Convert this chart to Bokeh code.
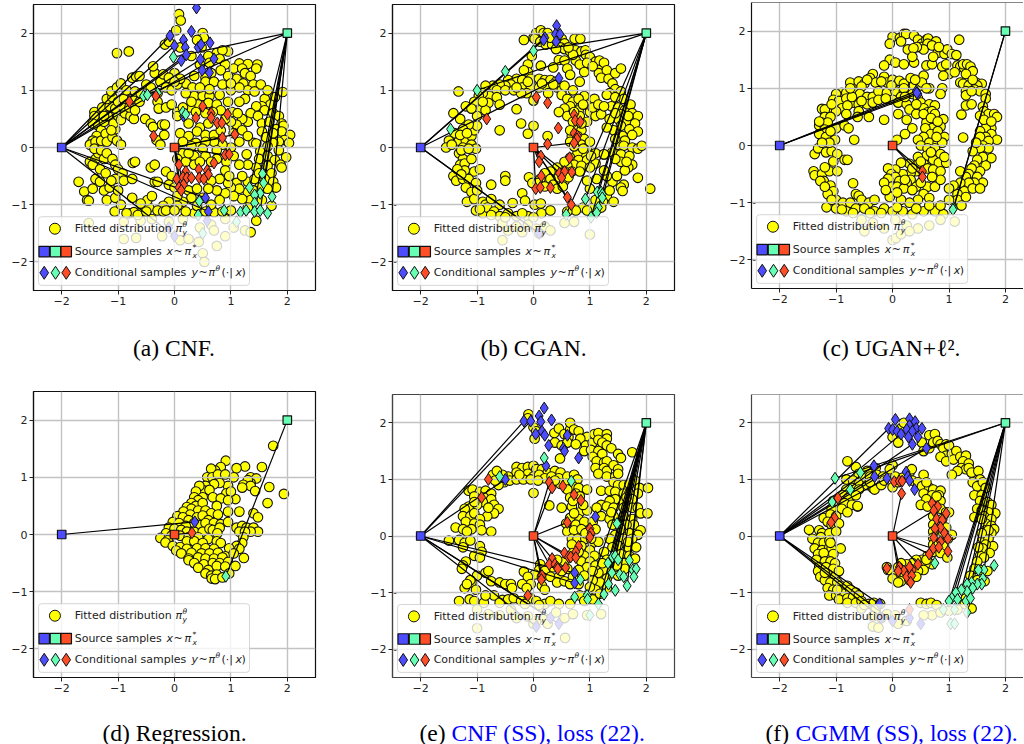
from bokeh.plotting import figure
from bokeh.layouts import row, column
from bokeh.models import BoxAnnotation, Label, FixedTicker, Range1d, Span
from bokeh.core.properties import value
from bokeh.embed import file_html
from bokeh.resources import INLINE

sources = [(-2, 0), (2, 2), (0, 0)]
tick_values = [-2, -1, 0, 1, 2]
tick_labels = {-2: "\u22122", -1: "\u22121", 0: "0", 1: "1", 2: "2"}
blue, green, red = "#4d4dff", "#66ffb3", "#ff4d26"

yellow_a = [(0.08,2.33),(0.11,2.22),(0.03,2.05),(-1.02,1.65),(-0.81,1.68),(0.5,2.0),(0.52,1.92),(-0.17,1.8),(-0.1,1.85),(0.1,1.75),(0.4,1.88),(0.48,1.75),(0.75,1.65),(0.95,1.68),(0.85,1.7),(0.6,1.6),(0.3,1.6),(0.45,1.45),(0.62,1.48),(0.8,1.55),(0.9,1.45),(0.82,1.35),(0.65,1.3),(0.55,1.22),(0.35,1.25),
(1.15,1.47),(1.3,1.46),(1.47,1.45),(1.45,1.38),(1.05,1.38),(1.2,1.38),(1.25,1.3),(1.35,1.25),(1.1,1.2),(1.22,1.12),(1.4,1.1),(1.53,1.1),(1.3,1.0),(1.42,0.98),(1.6,0.85),(1.78,0.88),(1.92,0.97),(1.7,0.75),(1.55,0.72),(1.25,0.85),(1.15,0.8),(1.45,0.72),(1.6,0.65),(1.75,0.6),(1.85,0.55),(1.35,0.6),(1.48,0.55),(1.3,0.45),(1.2,0.5),(1.55,0.42),(1.68,0.45),(1.9,0.42),(1.93,0.38),(1.05,0.35),(1.1,0.4),(1.8,0.32),(1.9,0.28),(2.05,0.22),(1.55,0.28),(1.95,0.13),(2.03,0.08),(1.85,0.1),(1.4,0.08),(1.45,0.07),(1.75,0.08),(1.65,0.02),(1.85,-0.05),(1.98,-0.17),(1.52,-0.07),(1.5,-0.2),(1.65,-0.15),(1.78,-0.22),(1.88,-0.3),(1.9,-0.35),(1.65,-0.32),(1.72,-0.45),(1.45,-0.35),(1.3,-0.3),(1.3,-0.6),(1.42,-0.55),(1.6,-0.55),(1.75,-0.6),(1.8,-0.7),(1.65,-0.72),(1.5,-0.7),(1.3,-0.78),(1.35,-0.92),(1.55,-0.92),(1.72,-1.02),(1.1,-0.62),(1.15,-0.72),(1.0,-0.7),(1.2,-0.9),(1.05,-0.85),(0.9,-0.8),(0.95,-0.62),(0.8,-0.92),(0.75,-0.75),(1.45,-1.28),
(0.2,1.12),(0.32,1.05),(0.55,1.15),(0.7,1.15),(0.85,1.1),(1.0,1.0),(0.35,0.9),(0.5,0.9),(0.62,0.9),(0.8,0.92),(0.95,0.8),(0.42,0.75),(0.6,0.78),(0.75,0.75),(0.28,0.7),(0.05,0.62),(0.15,0.7),(0.38,0.62),(0.82,0.65),(0.05,0.55),(0.25,0.42),(0.45,0.35),(0.6,0.42),(0.1,0.25),(0.25,0.2),(0.4,0.28),(0.55,0.22),(0.7,0.22),(0.82,0.3),(1.05,0.25),(1.15,0.1),(1.0,0.0),(0.85,0.05),(0.7,0.1),(0.55,0.1),(0.38,0.08),(0.15,0.1),(0.3,0.02),(0.5,-0.02),(0.75,-0.05),(1.05,-0.15),(1.15,-0.3),(0.92,-0.25),(0.75,-0.2),(0.55,-0.15),(0.35,-0.15),(0.15,-0.1),(0.05,-0.2),(-0.15,-0.42),(-0.05,-0.5),(0.2,-0.25),(0.35,-0.3),(0.9,-0.4),(0.8,-0.55),(0.65,-0.58),(0.97,-0.5),(-0.35,-0.6),(-0.3,-0.6),(-0.1,-0.65),(0.0,-0.7),(0.25,-0.75),(0.4,-0.72),(0.6,-0.72),(0.5,-0.88),(0.3,-0.88),(0.15,-0.95),(-0.1,-0.95),(0.05,-1.02),(-0.2,-1.02),
(-1.42,0.62),(-1.42,0.55),(-1.45,0.42),(-1.35,0.38),(-1.3,0.3),(-1.38,0.2),(-1.45,0.12),(-1.5,0.05),(-1.4,0.1),(-1.3,0.12),(-1.22,0.24),(-1.2,0.1),(-1.1,0.18),(-1.05,0.32),(-1.02,0.12),(-0.95,0.05),(-1.25,0.45),(-1.18,0.55),(-1.08,0.42),(-1,0.55),(-0.95,0.48),(-0.88,0.6),(-0.78,0.55),(-0.72,0.5),(-1.28,0.7),(-1.15,0.72),(-1.05,0.68),(-0.92,0.72),(-0.8,0.7),(-0.7,0.65),(-1.2,0.85),(-1.1,0.88),(-1,0.8),(-0.9,0.85),(-0.75,0.85),(-0.62,0.8),(-1.12,0.98),(-1.02,1.05),(-0.95,1.12),(-0.85,1.0),(-0.7,0.98),(-0.6,0.95),(-0.75,1.22),(-0.68,1.24),(-0.62,1.25),(-0.5,1.1),(-0.42,1.05),(-0.3,0.95),(-0.25,1.15),(-0.15,1.05),(-0.05,1.0),(0.05,1.1),(-0.35,1.3),(-0.2,1.28),(0,1.3),(-0.38,1.42),(-0.1,1.22),(0.1,1.2),(-0.3,0.8),(-0.28,0.68),(-0.15,0.7),(-0.05,0.75),(-0.52,0.5),(-0.42,0.42),(-0.38,0.36),(-0.22,0.4),(-0.17,0.4),(-0.32,0.13),(-0.25,0.05),(-0.18,0.22),
(-1.5,-0.25),(-1.4,-0.2),(-1.35,-0.1),(-1.42,-0.02),(-1.3,-0.05),(-1.25,-0.2),(-1.2,-0.1),(-1.1,-0.2),(-1.05,-0.3),(-1.7,-0.6),(-1.6,-0.77),(-1.55,-0.92),(-1.52,-0.93),(-1.45,-0.72),(-1.4,-0.55),(-1.32,-0.6),(-1.45,-0.3),(-1.25,-0.75),(-1.2,-0.92),(-1.15,-0.7),(-1.05,-0.55),(-1.0,-0.38),(-0.92,-0.45),(-0.9,-0.58),(-0.75,-0.55),(-0.74,-0.27),(-0.7,-0.25),(-0.42,-0.35),(-0.35,-0.3),(-1.05,-0.88),(-1.06,-1.12),(-0.95,-1.0),(-0.75,-0.88),(-0.8,-1.15),(-0.72,-1.13),(-0.6,-1.15),(-0.45,-1.05),(-0.48,-0.92),(-0.4,-0.85),(-0.3,-1.1),(-0.2,-1.12),(-0.6,-1.28),(-0.4,-1.25),(-0.9,-1.3),(-1.52,-1.32),(-0.1,-1.3),(0.15,-1.25),(0.35,-1.15),(0.7,-1.13),(0.9,-1.25),(0.65,-1.35),(0.45,-1.4),(1.05,-1.4),(1.25,-1.45),(1.35,-1.48),(-0.9,-1.6),(-0.68,-1.58),(-0.22,-1.55),(0.1,-1.62),(0.25,-1.6),(0.43,-1.65),(0.5,-1.85),(0.53,-2.0),(0.75,-1.72),(0.7,-1.45),(0.9,-1.55),
(-0.85,-1.15),(-0.65,-1.18),(-0.5,-1.12),(-0.15,-1.1),(0.0,-1.1),(0.2,-1.12),(0.55,-1.12),(0.85,-1.12),(1.0,-1.1),(1.3,-1.05),(0.4,-1.02),(0.65,-1.0),(-0.6,-0.98),(0.05,-0.85),(0.65,-0.25),(0.25,-0.1),(0.45,-0.25),(1.0,0.45),(0.68,0.62),(0.9,0.5),(0.55,0.6),(0.3,0.8),(0.2,0.95),(0.0,1.15),(0.45,1.05),(0.62,1.02),
(-1.25,0.55),(-1.12,0.3),(-1.32,-0.38),(-1.22,-0.45),(-1.12,-0.58),(-1.0,-0.75),(1.02,0.62),(1.12,0.6),(1.2,0.3),(1.3,0.2),(1.28,-0.12),(1.2,-0.5),(1.4,-0.75),(1.5,-0.45),(1.62,0.18),(1.75,0.25),(1.65,1.0),(1.15,1.05),(0.95,1.25),(1.0,1.12)]
blue_a = [(0.39,2.44),(0.3,2.03),(-0.08,1.95),(0,1.78),(0.16,1.88),(0.19,1.75),(0.63,1.83),(0.42,1.75),(0.47,1.8),(0.21,1.62),(0.46,1.54),(0.7,1.55),(0.12,1.52),(0.49,1.35),(0.62,1.31),(0.16,0.55),(0.55,-0.88),(0.6,-1.12),(-0.1,-1.4),(0,-1.55),(0.58,-1.28)]
green_a = [(-0.02,1.58),(-0.55,0.9),(-0.48,0.92),(-0.3,0.95),(0.15,0.62),(0.2,0.58),(1.33,-0.7),(1.56,-0.46),(1.58,-0.62),(1.52,-0.8),(1.42,-0.83),(1.73,-0.86),(1.42,-0.97),(0.44,-0.94),(1.17,-1.13),(1.27,-1.1),(1.42,-1.12),(1.52,-1.1),(1.65,-1.15),(0.88,-1.1),(0.42,-1.18),(1.1,-1.3),(0.5,-1.5)]
red_a = [(-0.8,0.8),(-0.33,0.9),(-0.37,0.2),(0.5,0.72),(0.38,0.52),(0.65,0.6),(0.65,0.52),(0.94,0.58),(0.76,0.43),(0.84,0.43),(0.85,0.17),(1.07,0.23),(0.9,-0.13),(0.97,-0.12),(0.7,-0.27),(0.08,-0.3),(0.2,-0.42),(0.43,-0.38),(0.58,-0.4),(0.6,-0.47),(0.04,-0.55),(0.15,-0.52),(0.22,-0.53),(0.3,-0.53),(0.44,-0.53),(0.52,-0.55),(0.16,-0.65),(0.08,-0.7),(0.12,-0.75)]
links_a = ([(0,1.78),(0.21,1.62),(0.46,1.54),(0.7,1.55),(0.12,1.52),(-0.08,1.95),(0.55,-0.88),(0.6,-1.12),(0,-1.55)],
           [(-0.02,1.58),(-0.48,0.92),(1.33,-0.7),(1.56,-0.46),(1.58,-0.62),(1.42,-0.97),(1.73,-0.86),(1.52,-1.1)],
           [(0.08,-0.3),(0.12,-0.75),(0.08,-0.7),(0.16,-0.65),(0.85,0.17),(1.07,0.23),(0.9,-0.13)])

yellow_b = [(0.0,1.92),(0.05,2.0),(0.13,2.05),(0.18,2.0),(0.25,2.0),(-0.17,1.88),(0.02,1.9),(0.12,1.85),(0.22,1.8),(0.33,1.8),(0.42,1.85),(0.5,1.9),(0.55,1.82),(0.48,1.75),(0.55,1.72),(0.65,1.68),(0.73,1.9),(0.83,1.9),(0.75,1.7),(0.85,1.68),(0.92,1.7),(0.93,1.62),(0.45,1.53),(0.55,1.52),(0.75,1.52),(0.82,1.45),(1.0,1.58),(1.1,1.5),(1.15,1.42),(1.17,1.52),(1.16,1.3),(1.25,1.48),(1.3,1.35),(1.2,1.22),(1.33,1.2),(1.45,1.3),(1.55,1.38),(1.4,1.12),(1.45,1.02),(1.35,0.95),(1.55,0.98),(1.6,0.85),(1.3,0.92),(1.45,0.88),(1.38,0.72),(1.5,0.7),(1.62,0.65),(1.72,0.75),(1.55,0.58),(1.75,0.6),(1.85,0.55),(1.5,0.5),(1.65,0.45),(1.8,0.42),(1.55,0.38),(1.7,0.32),(1.85,0.28),(1.75,0.22),(1.58,0.2),(1.42,0.3),(1.62,0.12),(1.5,0.05),(1.4,-0.08),(1.6,0.03),(1.75,0.0),(1.85,-0.02),(1.92,0.03),(1.55,-0.12),(1.7,-0.15),(1.55,-0.25),(1.45,-0.2),(1.75,-0.3),(1.68,-0.35),(1.85,-0.53),(2.07,-0.72),(1.6,-0.65),(1.55,-0.7),(1.58,-0.76),(1.4,-0.6),(1.3,-0.5),(1.25,-0.4),(1.1,-0.28),(1.25,-0.12),(1.0,-0.72),(1.3,-0.85),(1.42,-0.95),(1.23,-0.95),(0.88,-1.05),(1.05,-1.05),(0.95,-1.1),(0.75,-1.1),(0.6,-1.12),(1.0,-1.52),
(0.35,1.4),(0.6,1.38),(0.9,1.32),(0.65,1.27),(0.82,1.15),(-0.03,1.6),(-0.1,1.45),(-0.1,1.32),(0.13,1.43),(-0.17,1.35),(-0.3,1.2),(-0.2,1.18),(-0.05,1.2),(0.1,1.2),(0.2,1.18),(0.3,1.18),(0.4,1.15),(-0.45,1.18),(-0.4,1.1),(-0.5,1.08),(-0.6,1.1),(-0.72,1.08),(-0.85,1.08),(-0.65,1.0),(-0.5,1.0),(-0.35,1.0),(-0.2,1.05),(-0.05,1.08),(0.1,1.05),(0.25,1.05),(0.42,1.05),(0.5,1.0),(-0.12,0.95),(-0.22,0.95),(0.0,0.82),(0.26,0.95),(0.5,0.92),(0.6,0.85),(0.7,0.8),(-0.78,0.9),(-0.9,0.95),(-0.97,0.9),(-0.65,0.88),(-0.8,0.78),(-0.6,0.75),(-1.05,0.8),(-0.95,0.65),(-0.85,0.65),(-1.0,0.55),(-1.2,0.72),(-1.1,0.68),(-0.9,0.8),(-1.3,0.5),(-1.42,0.6),(-1.33,0.98),(-0.3,0.67),(-0.22,0.42),(-0.6,0.3),(0.0,0.38),(-0.1,0.24),(0.25,0.2),
(0.65,0.72),(0.55,0.68),(0.45,0.62),(0.6,0.55),(0.7,0.45),(0.8,0.65),(0.95,0.75),(1.0,0.62),(1.08,0.85),(0.9,0.9),(0.82,0.55),(0.95,0.45),(1.1,0.55),(1.2,0.58),(1.3,0.35),(0.75,0.3),(0.85,0.3),(0.68,0.2),(0.78,0.2),(0.9,0.15),(0.65,0.1),(0.75,0.05),(0.85,0.05),(0.95,0.0),(1.0,0.1),(1.1,-0.1),(1.25,-0.12),(0.9,-0.1),(0.78,-0.1),(0.65,-0.18),(0.8,-0.22),(0.95,-0.22),(0.72,-0.3),(0.85,-0.32),(1.0,-0.35),(0.6,-0.32),(0.68,-0.42),(0.55,-0.42),(0.42,-0.35),(0.3,-0.42),(0.2,-0.45),(0.45,-0.52),(0.55,-0.58),(0.62,-0.52),(0.3,-0.55),(0.12,-0.55),(-0.08,-0.52),(-0.02,-0.62),(0.08,-0.62),(0.2,-0.68),(0.35,-0.65),(0.42,-0.72),(0.52,-0.68),(0.95,-0.58),(-0.2,-0.8),(-0.15,-0.93),(0.02,-1.0),(0.13,-0.98),(0.14,-1.15),(0.3,-1.1),
(-1.32,0.12),(-1.4,0.25),(-1.5,0.12),(-1.55,0.0),(-1.45,0.05),(-1.2,0.12),(-1.1,0.2),(-1.05,0.3),(-1.0,0.38),(-1.1,0.05),(-1.02,-0.02),(-1.25,0.0),(-1.32,-0.1),(-1.25,-0.2),(-1.3,-0.3),(-1.22,-0.28),(-1.1,-0.2),(-1.22,-0.4),(-1.05,-0.42),(-0.95,-0.38),(-1.42,-0.5),(-1.37,-0.58),(-1.25,-0.55),(-1.15,-0.55),(-1.02,-0.62),(-1.2,-0.7),(-1.1,-0.78),(-0.75,-0.65),(-0.5,-0.5),(-0.5,-0.58),(-1.18,-0.95),(-1.05,-0.9),(-0.9,-0.95),(-0.85,-1.0),(-0.75,-0.9),(-0.6,-1.0),(-0.37,-0.97),(-1.02,-1.1),(-0.9,-1.15),(-0.82,-1.05),(-0.7,-1.12),(-0.6,-1.2),(-0.45,-1.15),(-0.3,-1.2),(-0.1,-1.2),(-0.55,-1.32),(-0.3,-1.38),(-0.1,-1.35),(0.05,-1.42),(0.2,-1.38),(-0.55,-1.62),(-0.45,-1.45),(-0.2,-1.48),(0.1,-1.5),(0.3,-1.45),(0.55,-1.32),(0.72,-1.3),
(-0.3,1.05),(-0.1,1.15),(0.15,1.12),(0.35,1.1),(0.55,1.08),(0.7,1.0),(0.8,0.85),(0.88,0.75),(0.72,0.62),(0.85,0.42),(1.05,0.7),(1.15,0.75),(0.65,0.3),(0.72,0.02),(0.88,-0.02),(0.82,-0.42),(0.55,-0.25),(1.02,-0.15),(1.12,-0.55),(-1.15,0.4),(-1.25,0.32),(-1.3,0.22),(-1.18,0.25),(-1.28,-0.05),(-1.15,-0.02),(-1.35,-0.38),(-1.28,-0.47),(-1.0,-0.75),(-0.95,-1.08),(-0.75,-1.18),(-0.5,-1.22),(-0.2,-1.15),(0,-1.22),(1.1,-0.92),(1.2,-1.05),(1.35,-0.75),(1.48,-0.5),(1.62,-0.4),(1.65,-0.25),(1.45,0.15),(1.35,0.5),(1.25,0.72),(1.45,0.6),(1.68,0.55),(0.95,1.48),(1.05,1.42),(0.7,1.62),(0.62,1.75),(0.3,1.92),(0.4,1.72)]
blue_b = [(0.41,2.13),(0.39,1.98),(0.47,1.98),(0.2,1.92),(0.18,1.88),(0.4,1.85),(0.45,1.21),(0.1,-1.5)]
green_b = [(0,1.69),(-0.5,1.33),(-1,1.0),(-1.47,0.32),(1.13,-0.78),(1.2,-0.78),(1.22,-0.82),(0.92,-0.9),(1.22,-0.88),(1.15,-1.05),(1.12,-1.14),(0.58,-1.17),(1.02,-1.22)]
red_b = [(0.05,0.88),(0.25,0.78),(-0.83,0.5),(0.44,0.34),(0.72,0.57),(0.74,0.47),(0.83,0.45),(0.72,0.25),(0.78,0.2),(0.77,0.15),(0.72,0.08),(0.25,0.06),(0.13,-0.15),(0.1,-0.25),(0.64,-0.18),(0.46,-0.45),(0.55,-0.42),(0.5,-0.53),(0.14,-0.5),(0.68,-0.43),(0.04,-0.72),(0.12,-0.7),(0.3,-0.7),(0.6,-0.87),(0.67,-1.0)]
links_b = ([(0.2,1.92),(0.18,1.88),(0.45,1.21),(0.1,-1.5),(0.1,-1.5)],
           [(0,1.69),(-1,1.0),(1.13,-0.78),(0.92,-0.9),(0.58,-1.17),(1.02,-1.22),(1.12,-1.14),(1.22,-0.88)],
           [(0.72,0.08),(0.13,-0.15),(0.1,-0.25),(0.04,-0.72),(0.46,-0.45),(0.55,-0.42),(0.6,-0.87),(0.67,-1.0)])

yellow_c = [(0,1.9),(-0.05,1.78),(0.13,1.88),(0.2,1.95),(0.24,1.95),(0.38,1.92),(0.45,1.85),(0.15,1.82),(0.52,1.78),(0.6,1.85),(0.63,1.87),(0.77,1.82),(0.5,1.72),(0.62,1.78),(0.55,1.68),(0.43,1.72),(0.27,1.68),(0.37,1.7),(0.7,1.75),(0.8,1.62),(0.92,1.6),(0.97,1.68),(1.05,1.6),(1.13,1.58),(1.18,1.85),(-0.05,1.5),(0.05,1.45),(0.2,1.42),(0.38,1.45),(0.6,1.4),(0.7,1.42),(0.88,1.38),(0.95,1.42),(-0.15,1.4),(1.0,1.25),(0.9,1.22),(1.15,1.4),(1.2,1.38),(1.27,1.35),(1.25,1.42),(1.32,1.42),(1.38,1.38),(1.42,1.3),(1.3,1.25),(1.1,1.28),(1.2,1.1),(1.25,1.08),(1.35,1.05),(1.48,1.1),(1.58,1.08),(1.5,1.05),(1.3,0.95),(1.45,0.98),(1.55,0.95),(1.3,0.88),(1.65,0.9),(1.65,0.82),(1.3,0.7),(1.4,0.72),(1.6,0.68),(1.62,0.6),(1.7,0.55),(1.8,0.55),(1.85,0.5),(1.55,0.52),(1.65,0.42),(1.7,0.35),(1.75,0.3),(1.65,0.3),(1.55,0.25),(1.75,0.2),(1.65,0.15),(1.55,0.15),(1.85,0.1),(1.7,0.08),(1.6,0.0),(1.7,-0.05),(1.55,-0.05),(1.75,-0.22),(1.6,-0.2),(1.65,-0.35),(1.5,-0.25),(1.45,-0.35),(1.55,-0.45),(1.4,-0.4),(1.35,-0.5),(1.5,-0.55),(1.6,-0.65),(1.45,-0.65),(1.3,-0.55),(1.35,-0.65),(1.2,-0.65),(1.27,-0.8),(1.15,-0.85),(1.08,-0.7),(1.15,-0.95),(1.3,-0.9),(1.0,-0.75),(1.0,-0.95),(1.1,-1.33),(1.25,0.14),(0.9,0.46),(1.22,0.54),
(-0.35,1.25),(-0.4,1.18),(-0.3,1.1),(-0.15,1.2),(-0.1,1.1),(0,1.15),(0.12,1.13),(0.2,1.08),(0.32,1.18),(0.38,1.05),(0.5,1.05),(0.55,1.22),(0.52,1.1),(0.65,1.0),(0.88,1.0),(0.85,0.9),(-0.75,1.1),(-0.65,1.0),(-0.6,1.12),(-0.5,1.08),(-0.45,1.15),(-0.55,1.03),(-0.9,0.92),(-1,0.9),(-0.82,0.92),(-0.7,0.95),(-0.58,0.9),(-0.45,0.85),(-0.35,0.85),(-0.25,0.95),(-0.1,0.92),(0.05,0.95),(0.2,0.95),(0.35,0.9),(0.15,0.85),(-1.05,0.8),(-0.95,0.78),(-0.82,0.82),(-0.7,0.75),(-0.6,0.72),(-0.45,0.72),(-0.35,0.75),(0,0.8),(0.1,0.75),(0.25,0.72),(0.45,0.82),(0.5,0.75),(0.65,0.72),(0.75,0.7),(-1.1,0.65),(-1.25,0.64),(-1.2,0.63),(-0.9,0.65),(-0.8,0.7),(-0.6,0.6),(-1.0,0.6),(-1.2,0.5),(-1.1,0.5),(-0.82,0.55),(-0.62,0.5),(-0.42,0.5),(-0.15,0.45),(0.1,0.55),(0.3,0.63),(0.55,0.65),(0.62,0.58),(-1.3,0.35),(-1.25,0.4),(-1.15,0.4),(-1.2,0.28),(-1.0,0.3),(-0.85,0.35),(-0.78,0.3),(-1.3,0.2),(-1.18,0.15),(-1.02,0.1),(-0.68,0.1),
(0.25,0.45),(0.35,0.3),(0.42,0.55),(0.6,0.5),(0.7,0.6),(0.75,0.55),(0.6,0.4),(0.75,0.42),(0.85,0.33),(0.7,0.3),(0.58,0.3),(0.68,0.2),(0.8,0.25),(0.92,0.15),(0.55,0.15),(0.65,0.05),(0.8,0.05),(0.45,0.1),(0.22,0.2),(0.08,0.1),(0.88,0.05),(0.5,0.0),(0.62,-0.05),(0.75,-0.05),(0.85,-0.15),(0.6,-0.18),(0.45,-0.2),(0.72,-0.25),(0.82,-0.3),(0.95,-0.3),(0.55,-0.32),(0.42,-0.35),(0.3,-0.32),(0.15,-0.3),(0.62,-0.4),(0.72,-0.42),(0.85,-0.45),(0.42,-0.45),(0.32,-0.48),(0.18,-0.5),(0.05,-0.42),(-0.08,-0.4),(-0.02,-0.5),(0.05,-0.55),(0.32,-0.6),(0.25,-0.65),(0.12,-0.62),(-0.08,-0.58),(-0.02,-0.72),(0.08,-0.72),(0.2,-0.75),(0.42,-0.72),(0.62,-0.72),(0.75,-0.72),(0.85,-0.6),(0.55,-0.85),(0.65,-0.92),(0.45,-0.95),(0.3,-1.0),(0.15,-0.95),(-0.05,-0.9),(0.08,-0.82),
(-1.38,-0.15),(-1.32,-0.05),(-1.18,-0.12),(-1.08,-0.1),(-0.98,-0.15),(-1.05,-0.28),(-0.85,-0.25),(-0.8,-0.25),(-1.4,-0.45),(-1.38,-0.52),(-1.25,-0.5),(-1.12,-0.45),(-1.2,-0.38),(-0.98,-0.45),(-1.22,-0.62),(-1.1,-0.7),(-1.05,-0.8),(-0.7,-0.66),(-0.65,-0.85),(-0.6,-0.88),(-1.15,-0.85),(-1.0,-0.95),(-0.88,-1.0),(-0.75,-1.0),(-0.55,-0.95),(-0.42,-1.0),(-0.32,-0.95),(-1.17,-1.08),(-1.0,-1.1),(-0.82,-1.15),(-0.65,-1.1),(-0.5,-1.1),(-0.32,-1.15),(-0.15,-1.1),(0.0,-1.15),(0.18,-1.15),(0.35,-1.2),(0.55,-1.15),(0.75,-1.15),(0.9,-1.2),(-0.55,-1.3),(-0.35,-1.35),(-0.5,-1.5),(-0.15,-1.45),(0.05,-1.3),(0.25,-1.4),(0.45,-1.45),(0.65,-1.4),(0.85,-1.3),(0.0,-1.65),(0.06,-1.62),(0.15,-1.55),(0.3,-1.5),
(-0.2,1.12),(-0.02,1.05),(0.2,1.0),(0.4,1.15),(0.6,1.0),(-0.72,0.85),(-0.55,0.78),(-0.25,0.8),(-0.12,0.82),(0.22,0.85),(0.42,0.72),(0.55,0.55),(0.68,0.48),(0.8,0.42),(0.78,0.15),(0.68,-0.12),(0.92,-0.2),(0.5,-0.28),(0.35,-0.4),(0.22,-0.6),(-0.15,-0.65),(-0.12,-0.78),(0.35,-0.78),(0.5,-0.65),(0.7,-0.55),(-1.28,-0.62),(-1.2,-0.72),(-1.08,-0.95),(-0.9,-1.12),(-0.7,-1.18),(-0.4,-1.18),(-0.2,-1.18),(0.08,-1.08),(0.42,-1.1),(0.65,-1.05),(0.85,-1.05),(1.22,-1.05),(1.42,-0.75),(1.55,-0.75),(1.2,-0.45),(1.42,-0.1),(1.48,0.05),(1.62,0.45),(1.75,0.42),(1.4,0.95),(1.42,1.15),(0.72,1.55),(0.82,1.72),(0.35,1.55),(-1.1,0.25),(-1.12,0.05),(-1.25,0.05),(-1.3,0.42),(-1.08,0.72),(-0.75,1.0)]
blue_c = [(0.42,0.95),(0.45,0.9),(0.43,0.92)]
green_c = [(1.08,-1.1),(1.07,-1.12)]
red_c = [(0.53,-0.45),(0.53,-0.55)]
links_c = (blue_c, green_c, red_c)

yellow_d = [(1.75,1.55),(0.91,1.29),(1.25,1.19),(1.1,1.16),(1.55,1.18),(0.82,1.18),(0.72,1.12),(0.65,1.15),(0.58,1.0),(0.67,1.0),(0.77,1.05),(0.9,1.05),(1.05,1.0),(1.35,1.0),(1.45,0.98),(1.35,0.9),(1.3,0.95),(1.22,0.87),(1.35,0.85),(1.43,0.76),(1.68,0.83),(1.94,0.71),(1.65,0.55),(1.2,0.82),(1.08,0.62),(0.95,0.85),(0.8,0.9),(0.92,0.72),(1.0,0.75),(0.7,0.88),(0.55,0.85),(0.5,0.78),(0.62,0.78),(0.44,0.85),(0.38,0.75),(0.5,0.65),(0.35,0.65),(0.42,0.6),(0.3,0.55),(0.38,0.5),(0.5,0.55),(0.68,0.65),(0.82,0.63),(0.95,0.6),(0.75,0.5),(1.15,0.4),(1.4,0.37),(1.48,0.3),(0.22,0.48),(0.3,0.45),(0.42,0.42),(0.55,0.42),(0.65,0.37),(0.77,0.35),(0.95,0.4),(0.16,0.4),(0.28,0.35),(0.4,0.3),(0.5,0.33),(0.6,0.25),(0.05,0.32),(0.15,0.3),(0.25,0.25),(0.35,0.2),(0.45,0.16),(0.55,0.2),(0.7,0.2),(0.82,0.18),(0.95,0.22),(-0.03,0.22),(0.08,0.2),(0.2,0.15),(1.1,0.12),(1.2,0.15),(1.28,0.12),(1.4,0.12),(1.48,0.05),(1.35,0.05),(-0.1,0.12),(0.0,0.1),(0.12,0.08),(0.22,0.05),(0.35,0.05),(0.5,0.05),(0.62,0.1),(0.68,0.08),(0.8,0.12),(0.76,0.02),(1.15,0.05),(1.25,0.05),(-0.15,0.02),(-0.05,-0.02),(0.1,-0.02),(0.25,-0.05),(0.42,-0.05),(0.6,-0.08),(0.75,-0.12),(1.22,-0.05),(-0.25,-0.06),(-0.12,-0.1),(0.22,-0.12),(0.35,-0.12),(0.5,-0.15),(0.82,-0.15),(1.2,-0.15),(1.1,-0.2),(-0.16,-0.14),(-0.03,-0.2),(0.1,-0.22),(0.22,-0.25),(0.4,-0.24),(0.55,-0.24),(0.7,-0.25),(0.97,-0.24),(1.15,-0.25),(0.03,-0.28),(0.12,-0.33),(0.3,-0.32),(0.48,-0.33),(0.62,-0.33),(0.77,-0.32),(0.9,-0.38),(1.05,-0.33),(0.25,-0.42),(0.42,-0.4),(0.55,-0.42),(0.7,-0.42),(0.85,-0.4),(1.23,-0.41),(0.25,-0.45),(0.35,-0.5),(0.52,-0.52),(0.68,-0.5),(0.8,-0.5),(0.95,-0.48),(1.08,-0.55),(0.42,-0.58),(0.6,-0.62),(0.75,-0.55),(0.9,-0.56),(0.55,-0.68),(0.65,-0.72),(0.75,-0.7),(0.97,-0.68),(0.66,-0.77),(0.72,-0.78),(0.85,-0.75)]
blue_d = [(0.36,0.22)]
green_d = [(0.91,-0.73)]
red_d = [(0.31,0.03)]
links_d = (blue_d, green_d, red_d)

yellow_e = [(-0.09,2.15),(-0.1,2.08),(0,1.92),(0.05,1.85),(0.02,1.72),(0.37,1.82),(0.45,1.9),(0.55,1.8),(0.38,1.65),(0.5,1.6),(0.62,1.75),(0.65,1.88),(0.65,2.0),(0.6,1.65),(0.72,1.88),(0.8,1.85),(0.95,1.75),(0.83,1.72),(0.75,1.62),(0.93,1.6),(0.9,1.5),(1.05,1.65),(1.08,1.8),(1.15,1.82),(1.3,1.8),(1.3,1.72),(1.15,1.7),(1.22,1.65),(1.3,1.6),(1.38,1.55),(1.5,1.45),(1.55,1.38),(1.75,1.48),(1.02,1.52),(1.15,1.5),(1.22,1.45),(1.05,1.4),(1.12,1.32),(1.25,1.3),(1.3,1.32),(1.1,1.2),(1.25,1.2),(1.3,1.15),(1.42,1.25),(1.5,1.18),(1.15,1.1),(1.3,1.05),(1.45,1.05),(1.5,1.1),(0.47,1.37),(1.42,0.95),(1.5,0.9),(1.6,0.9),(1.7,0.92),(1.8,0.98),(1.88,0.85),(1.85,0.75),(2.03,0.85),(1.2,0.8),(1.35,0.8),(1.45,0.78),(1.6,0.75),(1.7,0.75),(1.75,0.65),(1.6,0.6),(1.45,0.65),(1.35,0.62),(1.2,0.55),(1.12,0.5),(1.3,0.52),(1.42,0.5),(1.6,0.5),(1.75,0.5),(1.85,0.5),(1.9,0.4),(2.02,0.4),(1.42,0.35),(1.2,0.35),(1.35,0.3),(1.6,0.35),(1.75,0.3),(1.78,0.2),(1.65,0.2),(1.52,0.2),(1.4,0.2),(1.9,0.1),(1.85,0.02),(1.7,0.05),(1.55,0.05),(1.45,0.02),(1.35,-0.05),(1.6,-0.05),(1.75,-0.05),(1.5,-0.17),(1.68,-0.2),(1.82,-0.2),(1.4,-0.2),(1.25,-0.28),(1.55,-0.32),(1.7,-0.35),(1.8,-0.4),(1.3,-0.42),(1.4,-0.45),(1.6,-0.48),(1.25,-0.6),(1.4,-0.62),(1.5,-0.7),(1.15,-0.65),(1.3,-0.75),(1.18,-0.82),(1.05,-0.78),(1.3,-0.92),(1.1,-0.95),(0.95,-1.05),(0.82,-1.05),(1.05,-1.12),(0.9,-1.15),
(-0.3,1.22),(-0.2,1.2),(-0.1,1.22),(0,1.24),(-0.3,1.12),(-0.1,1.1),(0.05,1.18),(0.15,1.18),(0.25,1.12),(0.38,1.15),(0.48,1.12),(0,1.05),(0.1,1.08),(0.2,1.02),(0.32,1.05),(0.45,1.02),(0.6,1.05),(0.72,1.08),(0.78,1.0),(-0.45,1.05),(-0.55,1.08),(-0.72,1.08),(-0.65,1.15),(-0.52,0.95),(-0.62,0.9),(-0.68,0.98),(-0.42,0.98),(-0.3,1.0),(-0.18,1.0),(-0.05,1.0),(0.32,0.93),(0.48,0.92),(0.58,0.92),(0.7,0.88),(0.8,0.85),(0.95,0.82),(0.6,0.82),(0.75,0.75),(0.65,0.68),(0.82,0.7),(-1.15,0.8),(-1.08,0.82),(-0.95,0.78),(-0.85,0.8),(-0.75,0.75),(-1.05,0.7),(-0.88,0.68),(-0.75,0.65),(-0.9,0.6),(-1.0,0.55),(-1.15,0.52),(-1.22,0.48),(-0.7,0.55),(-0.62,0.48),(-0.7,0.4),(-0.82,0.35),(-1.25,0.35),(-1.12,0.35),(-1.05,0.4),(-0.95,0.3),(-1.2,0.25),(-1.05,0.22),(-0.95,0.2),(-1.38,0.15),(-1.25,0.12),(-1.1,0.12),(-0.92,0.1),(-0.75,0.08),(-1.18,0.08),(0.0,0.76),(0.28,0.54),(0.5,0.5),(0.68,0.52),(0.82,0.42),(0.95,0.45),(0.8,0.3),(0.65,0.32),(0.58,0.22),(0.75,0.2),(0.9,0.25),(1.05,0.25),(0.6,0.08),(0.72,0.1),(0.85,0.12),(1.1,0.12),(0.68,-0.05),(0.78,-0.05),(0.92,-0.05),(1.05,-0.12),(1.15,-0.1),(0.68,-0.15),(0.85,-0.18),(1.0,-0.25),(0.7,-0.3),(0.9,-0.35),(1.08,-0.35),(0.85,-0.45),(1.0,-0.45),(0.95,-0.55),(1.1,-0.52),(0.55,-0.45),(0.42,-0.42),(0.35,-0.55),(0.6,-0.58),(0.8,-0.6),(0.12,-0.5),(0.1,-0.6),(0.2,-0.62),(0.02,-0.68),(-0.17,-0.63),(-0.1,-0.72),(0.15,-0.72),(0.3,-0.72),(0.45,-0.72),(0.7,-0.72),(0.9,-0.7),(0.42,-0.82),(0.55,-0.8),(0.65,-0.85),(0.8,-0.85),(-0.05,-0.85),(0.15,-0.88),(0.2,-0.95),
(-1.5,-0.08),(-1.32,-0.07),(-1.22,-0.12),(-1.25,-0.2),(-1.12,-0.08),(-0.95,-0.18),(-1.05,-0.35),(-0.92,-0.28),(-1.2,-0.45),(-1.25,-0.52),(-1.27,-0.58),(-0.95,-0.38),(-1.0,-0.7),(-1.1,-0.82),(-0.85,-0.65),(-0.8,-0.62),(-1.12,-0.78),(-1.22,-0.92),(-1.02,-0.95),(-0.75,-0.8),(-0.6,-0.82),(-0.5,-0.85),(-0.4,-0.85),(-0.38,-0.92),(-0.2,-0.85),(-0.12,-0.92),(-1.32,-1.15),(-1.13,-1.12),(-1.05,-1.15),(-0.88,-1.18),(-0.7,-1.05),(-0.55,-1.13),(-0.45,-1.12),(-0.35,-1.1),(-0.22,-1.15),(-0.05,-1.1),(0.05,-1.15),(0.2,-1.2),(0.3,-1.15),(0.45,-1.2),(0.65,-1.2),(-1.0,-1.3),(-0.8,-1.38),(-0.6,-1.4),(-0.4,-1.3),(-0.3,-1.45),(-0.1,-1.42),(0.05,-1.5),(0.2,-1.45),(0.4,-1.35),(0.55,-1.45),(0.7,-1.38),(0.95,-1.4),(1.2,-1.38),(-1.0,-1.63),(0.0,-1.55),(0.25,-1.55),(0.56,-1.8),
(1.55,0.12),(1.68,-0.1),(1.62,-0.58),(1.48,-0.52),(1.22,-0.48),(1.05,-0.62),(1.0,-0.9),(1.18,-1.02),(1.38,0.42),(1.65,0.68),(-0.25,1.08),(0.08,0.98),(0.38,0.98),(0.7,0.62),(0.88,0.55),(0.72,0.4),(0.92,0.05),(1.02,-0.05),(0.8,-0.28),(0.5,-0.62),(-1.18,-0.85),(-0.85,-1.05),(-0.6,-1.18),(-0.15,-1.2),(0.1,-1.22),(-1.05,0.6),(-0.8,0.5)]
blue_e = [(0.19,2.26),(0.1,2.12),(-0.17,2.03),(-0.05,2.03),(0.13,2.02),(0.32,2.05),(0.04,1.8),(0.15,1.85),(0.2,1.78),(0.27,1.6),(0.6,1.78),(0.53,1.55),(0.55,1.5),(0.8,1.38),(0.22,1.24),(-0.5,1.0),(1.1,0.34),(0.73,-0.65),(0.73,-0.83),(0.45,-1.55),(0.05,-1.6),(0.3,-1.45)]
green_e = [(0.19,1.38),(-0.6,1.05),(0.67,0.97),(1.48,0.22),(1.4,-0.37),(1.45,-0.35),(1.32,-0.48),(1.5,-0.42),(1.7,-0.43),(1.76,-0.6),(1.82,-0.58),(1.39,-0.65),(1.53,-0.68),(1.6,-0.72),(1.78,-0.72),(1.66,-0.88),(0.83,-0.77),(1.33,-0.85),(1.45,-0.96),(1.25,-1.03),(0.95,-1.05),(0.73,-1.08),(0.96,-1.12),(1.15,-1.2),(1.0,-1.4)]
red_e = [(-0.8,1.0),(-0.92,0.68),(0.28,0.95),(0.33,0.85),(0.52,0.88),(0.72,0.73),(0.84,0.63),(0.6,0.24),(1.0,0.13),(1.02,0.05),(1.0,-0.02),(0.8,-0.18),(0.75,-0.28),(0.55,-0.3),(0.62,-0.37),(0.66,-0.37),(0.75,-0.38),(0.33,-0.4),(0.28,-0.5),(0.38,-0.5),(0.42,-0.55),(0.43,-0.58),(0.57,-0.56),(0.15,-0.7),(0.14,-0.77),(-0.1,-1.05)]
links_e = ([(-0.17,2.03),(-0.05,2.03),(-0.5,1.0),(0.73,-0.65),(0.73,-0.83),(0.45,-1.55),(0.05,-1.6),(0.3,-1.45)],
           [(1.48,0.22),(1.4,-0.37),(1.32,-0.48),(1.5,-0.42),(1.39,-0.65),(1.53,-0.68),(1.66,-0.88),(1.7,-0.43),(1.33,-0.85),(1.25,-1.03),(0.95,-1.05),(1.15,-1.2)],
           [(0.28,0.95),(0.33,0.85),(0.6,0.24),(0.55,-0.3),(0.33,-0.4),(0.28,-0.5),(0.15,-0.7),(0.14,-0.77),(0.62,-0.37)])

yellow_f = [(-0.8,1.32),(0.0,1.75),(0.1,1.65),(0.15,1.9),(0.2,2.0),(0.65,1.78),(0.75,1.8),(0.52,1.65),(0.55,1.5),(0.65,1.55),(0.72,1.65),(0.8,1.68),(0.85,1.62),(0.95,1.62),(0.9,1.55),(1.0,1.6),(0.95,1.42),(1.05,1.45),(1.13,1.5),(0.85,1.4),(0.95,1.32),(1.08,1.35),(1.2,1.4),(1.3,1.42),(1.25,1.32),(1.35,1.28),(1.22,1.2),(1.3,1.18),(1.35,1.2),(1.15,1.15),(1.05,1.08),(1.4,1.12),(1.52,1.15),(1.55,1.0),(1.42,0.95),(1.5,0.88),(1.6,0.95),(1.65,0.85),(1.45,0.72),(1.58,0.72),(1.55,0.62),(1.68,0.6),(1.75,0.55),(1.82,0.4),(1.5,0.48),(1.58,0.45),(1.7,0.42),(1.62,0.35),(1.45,0.33),(1.75,0.3),(1.65,0.22),(1.75,0.18),(1.8,0.12),(1.65,0.1),(1.75,0.05),(1.6,-0.05),(1.7,-0.05),(1.78,-0.18),(1.65,-0.15),(1.6,-0.22),(1.72,-0.3),(1.55,-0.35),(1.62,-0.38),(1.5,-0.45),(1.45,-0.58),(1.55,-0.6),(1.68,-0.62),(1.38,-0.7),(1.63,-0.8),(1.5,-0.78),(1.3,-1.1),(1.4,-1.28),(1.28,-1.2),
(0.0,1.25),(-0.3,1.2),(-0.65,1.22),(-0.6,1.1),(-0.45,1.15),(-0.52,1.02),(-0.4,1.05),(-0.28,1.08),(-0.17,1.05),(-0.05,1.18),(0.05,1.05),(0.18,1.03),(0.3,1.12),(0.34,1.18),(0.55,1.08),(-0.82,1.0),(-0.7,0.98),(-0.6,0.92),(-0.45,0.9),(-0.35,0.85),(-0.32,0.82),(-0.2,0.9),(0.0,0.86),(-0.72,0.85),(-0.82,0.82),(-0.6,0.82),(-0.88,0.72),(-0.78,0.68),(-0.65,0.72),(-1.05,0.62),(-0.95,0.6),(-0.85,0.58),(-0.72,0.55),(-0.9,0.48),(-0.8,0.42),(-0.62,0.52),(-0.62,0.53),(-1.08,0.48),(-1.22,0.32),(-1.1,0.38),(-1.0,0.35),(-1.15,0.25),(-1.08,0.2),(-0.95,0.22),(-1.48,0.11),(-1.3,0.1),(-1.25,0.05),(-1.12,0.05),(-1.0,0.08),(0.35,0.98),(0.45,0.95),(0.52,0.88),(0.65,0.85),(0.72,0.82),(0.85,0.8),(0.55,0.75),(0.7,0.72),(0.82,0.72),(0.6,0.65),(0.75,0.62),(0.85,0.62),(0.5,0.55),(0.62,0.52),(0.85,0.48),(0.95,0.42),(1.0,0.42),(0.72,0.35),(0.88,0.3),(0.72,0.2),(0.95,0.15),(0.72,0.08),(0.9,0.05),(1.05,0.02),(0.72,-0.03),(0.98,-0.05),(0.72,-0.15),(0.9,-0.18),(0.72,-0.28),(0.85,-0.3),(0.97,-0.38),(0.62,-0.35),(0.52,-0.42),(0.42,-0.42),(0.7,-0.5),(0.58,-0.5),(0.35,-0.48),(0.25,-0.5),(0.15,-0.48),(0.1,-0.55),(0.55,-0.6),(0.45,-0.62),(0.3,-0.65),(0.2,-0.7),(0.05,-0.7),(0.0,-0.75),(0.15,-0.8),(0.3,-0.78),(0.42,-0.72),(0.1,-0.82),(-0.1,-0.55),(-0.08,-0.6),(-0.92,-0.22),
(-1.27,-0.02),(-1.42,-0.05),(-1.32,-0.12),(-1.22,-0.12),(-1.12,-0.08),(-1.38,-0.22),(-1.25,-0.25),(-1.12,-0.2),(-1.08,-0.22),(-1.32,-0.32),(-1.22,-0.3),(-1.05,-0.32),(-1.35,-0.42),(-1.2,-0.45),(-1.1,-0.45),(-1.02,-0.48),(-1.3,-0.55),(-1.18,-0.55),(-1.05,-0.58),(-1.32,-0.62),(-1.28,-0.72),(-1.15,-0.68),(-1.02,-0.72),(-0.95,-0.62),(-1.2,-0.78),(-1.1,-0.82),(-0.98,-0.82),(-0.92,-0.88),(-1.15,-0.92),(-1.05,-0.95),(-0.9,-0.95),(-0.8,-0.88),(-1.12,-1.05),(-1.0,-1.05),(-0.88,-1.02),(-0.75,-0.95),(-0.65,-1.0),(-0.95,-1.12),(-0.8,-1.1),(-0.7,-1.08),(-0.6,-1.05),(-0.8,-1.18),(-0.65,-1.18),(-0.55,-1.15),(-0.42,-1.2),(-0.35,-1.2),(-0.33,-1.18),(-0.22,-1.2),(-0.55,-1.28),(-0.3,-1.3),(-0.1,-1.38),(0.05,-1.4),(-0.35,-1.42),(-0.2,-1.45),(-0.35,-1.6),(-0.25,-1.62),(0.1,-1.55),(0.25,-1.5),(0.5,-1.18),(0.6,-1.2),(0.68,-1.18),(0.78,-1.22),(0.7,-1.4),(0.55,-1.4),(0.85,-1.35),(1.0,-1.32),(1.15,-1.3),
(-0.4,0.95),(-0.15,0.98),(0.1,0.95),(0.6,0.95),(0.78,0.7),(0.6,-0.42),(-1.1,-0.12),(-1.2,-0.65),(-0.98,-0.95),(-0.5,-1.22),(1.58,0.3),(1.7,0.1),(1.58,0.05),(1.52,-0.2)]
blue_f = [(0.05,2.06),(-0.07,1.9),(0,1.88),(0.08,1.85),(0.15,1.8),(0.3,2.07),(0.4,2.02),(0.3,1.95),(0.42,1.9),(0.52,1.9),(0.25,1.88),(0.35,1.85),(0.45,1.75),(0.28,1.75),(0.35,1.62),(0.6,1.55),(-0.33,1.24),(-0.32,1.05),(-0.1,1.02),(0.24,1.13),(0.27,1.05),(0.3,0.98),(0.39,0.82),(-0.23,-1.2),(-0.2,-1.45),(0,-1.5),(0.3,-1.45),(0.5,-1.55)]
green_f = [(-1.02,1.02),(-0.57,1.12),(-0.75,0.82),(-1.07,0.6),(0.75,-0.48),(1.8,-0.52),(1.62,-0.6),(1.6,-0.75),(1.52,-0.6),(1.58,-0.85),(1.5,-0.85),(1.4,-0.82),(1.32,-0.85),(1.42,-0.92),(1.32,-0.98),(1.22,-0.95),(1.12,-1.0),(1.05,-1.1),(1.15,-1.12),(1.3,-1.15),(1.38,-1.1),(1.0,-1.15),(0.9,-1.3),(1.1,-1.3),(1.32,-1.35),(1.03,-1.55),(1.1,-1.55)]
red_f = [(-0.97,0.67),(-1.03,0.32),(-1.09,0.24),(0.03,0.96),(0.12,0.97),(0.17,0.97),(0.16,0.75),(0.7,0.58),(0.8,0.52),(0.73,0.45),(0.95,0.4),(0.78,0.3),(0.88,0.28),(0.85,0.15),(0.75,0.13),(0.92,0.05),(0.73,-0.03),(0.85,-0.1),(0.98,-0.05),(0.72,-0.22),(0.82,-0.2),(0.98,-0.27),(0.65,-0.32),(0.45,-0.5),(0.35,-0.6),(0.3,-0.55),(0.12,-0.55),(0.2,-0.62),(0.1,-0.62),(-0.1,-0.57),(0.25,-0.72),(0.34,-0.7),(0.32,-0.82),(0.3,-1.3)]
links_f = ([(-0.07,1.9),(0.15,1.8),(0.35,1.62),(0.6,1.55),(-0.33,1.24),(-0.32,1.05),(-0.1,1.02),(-0.23,-1.2),(-0.2,-1.45),(0,-1.5)],
           [(-1.02,1.02),(-0.57,1.12),(1.05,-1.1),(1.0,-1.15),(1.12,-1.0),(1.22,-0.95),(1.32,-0.85),(1.4,-0.82),(1.6,-0.75)],
           [(0.16,0.75),(0.73,0.45),(0.72,-0.22),(0.65,-0.32),(0.45,-0.5),(0.12,-0.55),(0.1,-0.62)])

panels = [
    dict(name="a", pts=(yellow_a, blue_a, green_a, red_a), links=links_a, left=25, fw=282, right=25, top=2, fh=286, bottom=32, rng=2.5, edge="#111111"),
    dict(name="b", pts=(yellow_b, blue_b, green_b, red_b), links=links_b, left=52, fw=282, right=26, top=2, fh=286, bottom=32, rng=2.5, edge="#111111"),
    dict(name="c", pts=(yellow_c, blue_c, green_c, red_c), links=links_c, left=51, fw=272, right=0, top=0, fh=286, bottom=34, rng=2.32, edge="#111111"),
    dict(name="d", pts=(yellow_d, blue_d, green_d, red_d), links=links_d, left=25, fw=282, right=25, top=21, fh=286, bottom=31, rng=2.5, edge="#111111"),
    dict(name="e", pts=(yellow_e, blue_e, green_e, red_e), links=links_e, left=52, fw=282, right=26, top=24, fh=283, bottom=31, rng=2.5, edge="#444444"),
    dict(name="f", pts=(yellow_f, blue_f, green_f, red_f), links=links_f, left=51, fw=272, right=0, top=24, fh=283, bottom=31, rng=2.32, edge="#444444"),
]

caption_top = [("(a) CNF.", 173.5, "#000000", "center"), ("(b) CGAN.", 533, "#000000", "center"),
               ("(c) UGAN+\u2113\u00b2.", 891, "#000000", "center")]
caption_bottom = [("(d) Regression.", 174, "#000000", "center"), ("(e)", 419, "#000000", "left"),
                  ("CNF (SS), loss (22).", 451, "#0000ff", "left"), ("(f)", 765, "#000000", "left"),
                  ("CGMM (SS), loss (22).", 795, "#0000ff", "left")]
dash_rows = {"b": [-1, -2], "c": [-1, -2], "e": [-1, -2]}


def strip(items, height, mid):
    # page pixels on x, pixels below the strip's top on y
    s = figure(width=1015, height=height, x_range=Range1d(8, 1023), y_range=Range1d(height, 0),
               output_backend="svg", toolbar_location=None, min_border=0, frame_align=False)
    s.axis.visible = False
    s.grid.visible = False
    s.outline_line_color = None
    s.text([i[1] for i in items], [mid] * len(items), text=[i[0] for i in items],
           text_color=[i[2] for i in items], text_align=[i[3] for i in items],
           text_font=value("Liberation Serif"), text_font_size="23.6px", text_baseline="middle")
    return s


def make(P):
    xs = 56.45
    ys = P["fh"] / 5
    p = figure(width=P["left"] + P["fw"] + P["right"], height=P["top"] + P["fh"] + P["bottom"],
               frame_width=P["fw"], frame_height=P["fh"],
               x_range=Range1d(-2.5, P["rng"]), y_range=Range1d(-2.5, 2.5),
               output_backend="svg", toolbar_location=None, frame_align=False,
               min_border_left=P["left"], min_border_right=P["right"],
               min_border_top=P["top"], min_border_bottom=P["bottom"])
    for ax in (p.xaxis[0], p.yaxis[0]):
        ax.ticker = FixedTicker(ticks=tick_values)
        ax.major_label_overrides = tick_labels
        ax.minor_tick_line_color = None
        ax.major_tick_in = 0
        ax.major_tick_out = 4
        ax.major_label_standoff = 2
        ax.major_label_text_font = "DejaVu Sans"
        ax.major_label_text_font_size = "11px"
        ax.major_label_text_color = "#222222"
        ax.axis_line_color = P["edge"]
        ax.major_tick_line_color = "#222222"
        ax.axis_line_width = 1.2
    p.outline_line_color = P["edge"] if P["rng"] == 2.5 else None
    p.outline_line_width = 1.2
    for g in (p.xgrid[0], p.ygrid[0]):
        g.ticker = FixedTicker(ticks=tick_values)
        g.grid_line_color = "#c2c2c2"
        g.grid_line_width = 1.4
        g.level = "underlay"
    if P["rng"] != 2.5:
        p.add_layout(Span(location=2.5, dimension="width", line_color=P["edge"], line_width=1.2))

    yellow, b, g, r = P["pts"]
    p.scatter([q[0] for q in yellow], [q[1] for q in yellow], marker="circle", size=9.6,
              fill_color="#ffff00", line_color="#111111", line_width=1.1, level="image")
    for src, pts in zip(sources, P["links"]):
        p.segment([src[0]] * len(pts), [src[1]] * len(pts), [q[0] for q in pts], [q[1] for q in pts],
                  line_color="#000000", line_width=1.2)
    for pts, col in zip((b, g, r), (blue, green, red)):
        p.scatter([q[0] for q in pts], [q[1] for q in pts], marker="diamond", size=12,
                  fill_color=col, line_color="#111111", line_width=1)
    for src, col in zip(sources, (blue, green, red)):
        p.scatter([src[0]], [src[1]], marker="square", size=8.5, fill_color=col,
                  line_color="#111111", line_width=1.2)

    p.add_layout(BoxAnnotation(left=-2.41, right=1.33, top=-1.21, bottom=-2.41, fill_color="white",
                               fill_alpha=0.8, line_color="#cccccc", line_alpha=0.8, line_width=1,
                               border_radius=3, level="annotation"))
    p.scatter([-2.12], [-1.42], marker="circle", size=11, fill_color="#ffff00", line_color="#111111",
              line_width=1, level="overlay")
    p.scatter([-2.31, -2.11, -1.92], [-1.82] * 3, marker="square", size=10.5,
              fill_color=[blue, green, red], line_color="#111111", line_width=1.2, level="overlay")
    p.scatter([-2.31, -2.11, -1.92], [-2.19] * 3, marker="diamond", size=13,
              fill_color=[blue, green, red], line_color="#111111", line_width=1, level="overlay")

    base = -1.77
    def txt(s, dx, y, dy=0, size=11, style="normal"):
        p.add_layout(Label(x=base + dx / xs, y=y + dy / ys, text=s, text_font="DejaVu Sans",
                           text_font_size=f"{size}px", text_font_style=style, text_color="#222222",
                           text_baseline="middle", text_align="left", level="overlay"))
    txt("Fitted distribution", 0, -1.42)
    txt("\u03c0", 101, -1.42, style="italic")
    txt("\u03b8", 108, -1.42, dy=4, size=7.5, style="italic")
    txt("y", 108, -1.42, dy=-4, size=7.5, style="italic")
    txt("Source samples", 0, -1.82)
    txt("x", 92, -1.82, style="italic")
    txt("~", 99, -1.82)
    txt("\u03c0", 110, -1.82, style="italic")
    txt("*", 118, -1.82, dy=4, size=7.5)
    txt("x", 118, -1.82, dy=-4, size=7.5, style="italic")
    txt("Conditional samples", 0, -2.19)
    txt("y", 117, -2.19, style="italic")
    txt("~", 124, -2.19)
    txt("\u03c0", 134, -2.19, style="italic")
    txt("\u03b8", 141, -2.19, dy=4, size=7.5, style="italic")
    txt("(\u00b7|", 147, -2.19)
    txt("x", 161, -2.19, style="italic")
    txt(")", 167, -2.19)

    for level_y in dash_rows.get(P["name"], []):
        p.add_layout(Label(x=1, x_units="screen", y=level_y, text="-", text_font="DejaVu Sans",
                           text_font_size="9px", text_color="#222222", text_baseline="middle"))
    return p


figs = {P["name"]: make(P) for P in panels}
layout = column(row(figs["a"], figs["b"], figs["c"], spacing=0),
                strip(caption_top, 48, 25),
                row(figs["d"], figs["e"], figs["f"], spacing=0),
                strip(caption_bottom, 36, 24),
                spacing=0, margin=(2, 0, 0, 8))
open("out.html", "w").write(file_html(layout, INLINE))
